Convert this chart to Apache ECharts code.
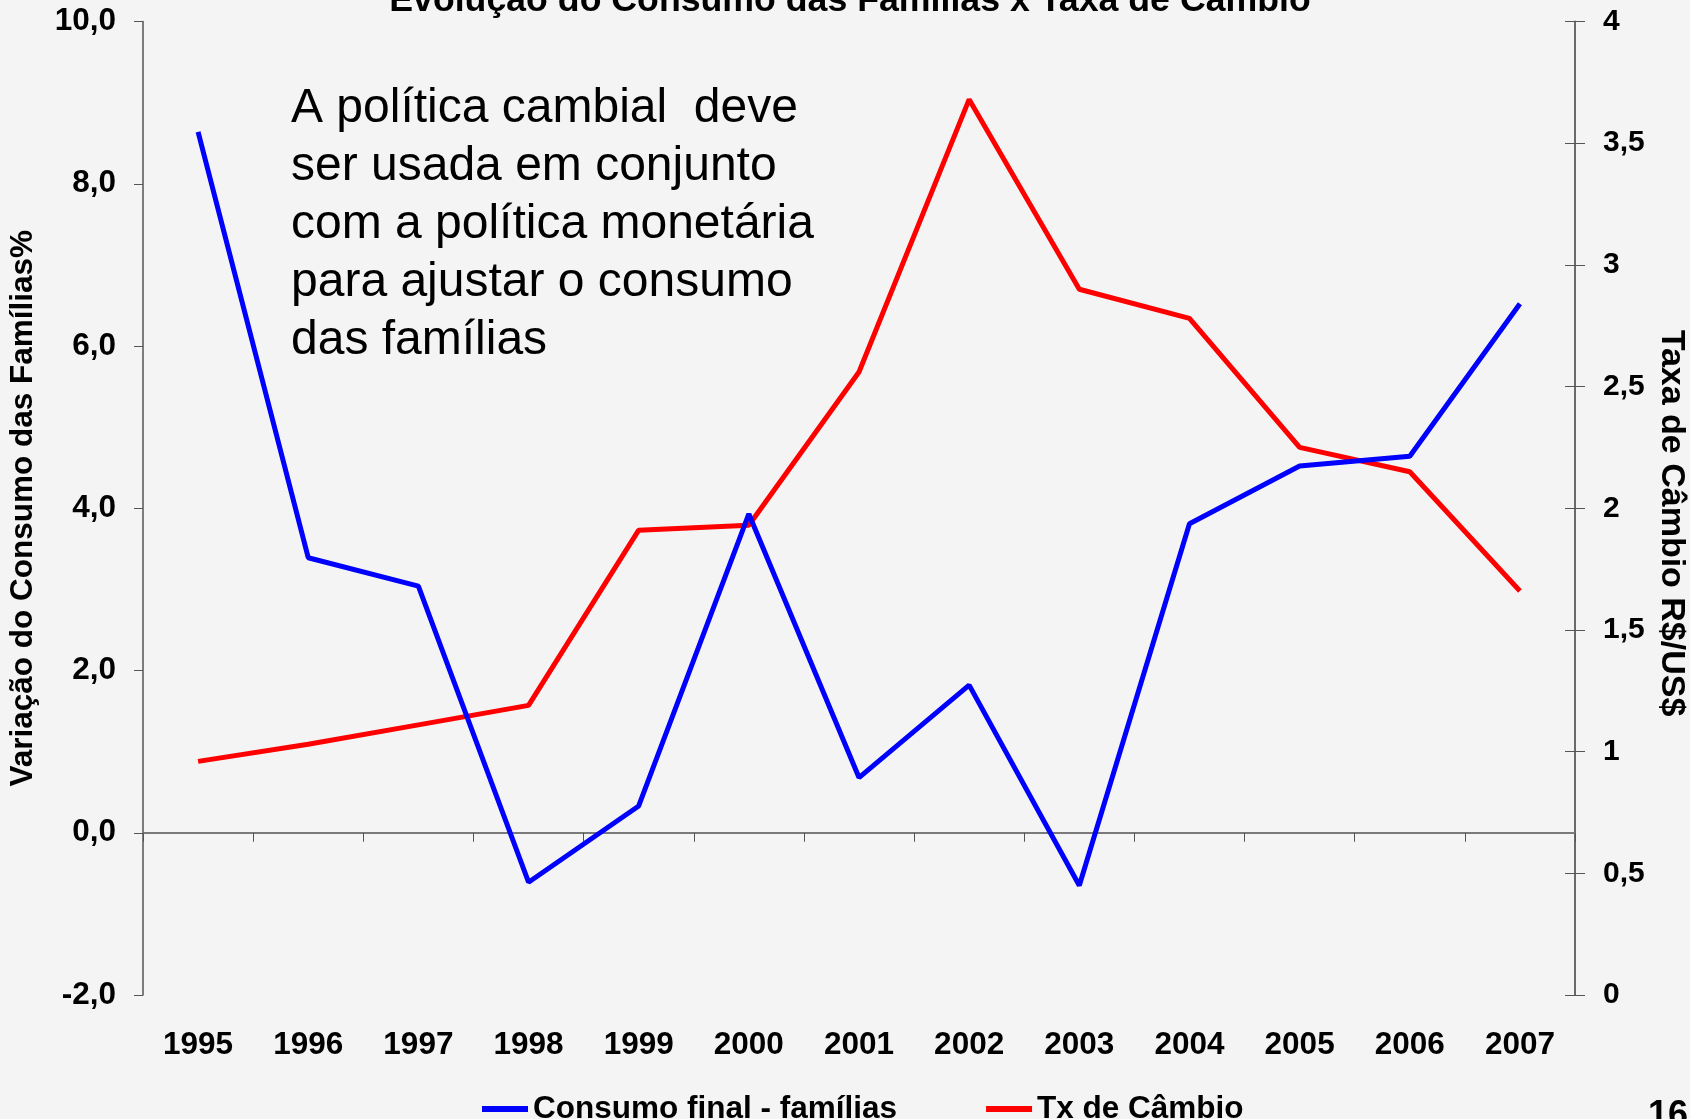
<!DOCTYPE html>
<html>
<head>
<meta charset="utf-8">
<script src="https://cdn.jsdelivr.net/npm/echarts@6/dist/echarts.min.js"></script>
<style>
html,body{margin:0;padding:0;background:#f4f4f4;}
#chart{width:1690px;height:1119px;}
</style>
</head>
<body>
<div id="chart"></div>
<script>
const years = ['1995','1996','1997','1998','1999','2000','2001','2002','2003','2004','2005','2006','2007'];
const consumo = [8.64, 3.39, 3.04, -0.61, 0.33, 3.93, 0.68, 1.82, -0.65, 3.81, 4.52, 4.64, 6.52];
const cambio = [0.96, 1.03, 1.11, 1.19, 1.91, 1.93, 2.56, 3.68, 2.90, 2.78, 2.25, 2.15, 1.66];
const seriesNames = ['Consumo final - famílias', 'Tx de Câmbio'];
const titleText = 'Evolução do Consumo das Famílias x Taxa de Câmbio';
const noteText = 'A política cambial  deve\nser usada em conjunto\ncom a política monetária\npara ajustar o consumo\ndas famílias';
const leftName = 'Variação do Consumo das Famílias%';
const rightName = 'Taxa de Câmbio R$/US$';

const FONT = '"Liberation Sans", Arial, sans-serif';
const chart = echarts.init(document.getElementById('chart'));
const comma = v => String(v).replace('.', ',');

chart.setOption({
  backgroundColor: '#f4f4f4',
  animation: false,
  grid: { left: 143, right: 115, top: 21.5, bottom: 124, containLabel: false, outerBoundsMode: 'none' },
  xAxis: [
    {
      type: 'category', data: years, boundaryGap: true, position: 'bottom',
      axisLine: { show: false, onZero: false },
      axisTick: { show: false },
      axisLabel: { margin: 34, fontFamily: FONT, fontWeight: 'bold', fontSize: 31.5, color: '#000' },
      splitLine: { show: false }
    },
    {
      type: 'category', data: years, boundaryGap: true, position: 'bottom',
      axisLine: { show: true, onZero: true, onZeroAxisIndex: 0, lineStyle: { color: '#7a7a7a', width: 2 } },
      axisTick: { show: true, inside: false, length: 9, lineStyle: { color: '#555', width: 1 } },
      axisLabel: { show: false },
      splitLine: { show: false }
    }
  ],
  yAxis: [
    {
      type: 'value', min: -2, max: 10, interval: 2, position: 'left',
      name: leftName, nameLocation: 'middle', nameRotate: 90, nameGap: 104,
      nameTextStyle: { fontFamily: FONT, fontWeight: 'bold', fontSize: 31.5, color: '#000' },
      axisLine: { show: true, lineStyle: { color: '#555', width: 1.5 } },
      axisTick: { show: true, length: 9, lineStyle: { color: '#555' } },
      axisLabel: { margin: 27, fontFamily: FONT, fontWeight: 'bold', fontSize: 31.5, color: '#000',
        formatter: v => v.toFixed(1).replace('.', ',') },
      splitLine: { show: false }
    },
    {
      type: 'value', min: 0, max: 4, interval: 0.5, position: 'right',
      axisLine: { show: true, lineStyle: { color: '#6a6a6a', width: 2 } },
      axisTick: { show: true, length: 10, lineStyle: { color: '#555' } },
      axisLabel: { margin: 28, fontFamily: FONT, fontWeight: 'bold', fontSize: 30, color: '#000',
        formatter: v => comma(v) },
      splitLine: { show: false }
    },
    {
      type: 'value', min: 0, max: 4, interval: 0.5, position: 'right',
      axisLine: { show: false },
      axisTick: { show: true, inside: true, length: 10, lineStyle: { color: '#555' } },
      axisLabel: { show: false },
      splitLine: { show: false }
    }
  ],
  legend: {
    left: 477, top: 1088, itemGap: 89, itemWidth: 46, itemHeight: 6, icon: 'rect',
    textStyle: { fontFamily: FONT, fontWeight: 'bold', fontSize: 31.5, color: '#000' },
    data: seriesNames
  },
  series: [
    {
      name: seriesNames[0], type: 'line', xAxisIndex: 0, yAxisIndex: 0, data: consumo,
      symbol: 'none', lineStyle: { color: '#0000ff', width: 5 }, itemStyle: { color: '#0000ff' }, z: 3
    },
    {
      name: seriesNames[1], type: 'line', xAxisIndex: 0, yAxisIndex: 1, data: cambio,
      symbol: 'none', lineStyle: { color: '#ff0000', width: 5 }, itemStyle: { color: '#ff0000' }, z: 2
    }
  ],
  graphic: [
    { type: 'text', position: [0, 0], style: { text: titleText, x: 850, y: 1, textAlign: 'center', textVerticalAlign: 'middle',
      font: 'bold 35.7px ' + FONT, fill: '#000' } },
    { type: 'text', x: 1671, y: 523, rotation: -Math.PI / 2,
      style: { text: rightName, x: 0, y: 0, textAlign: 'center', textVerticalAlign: 'middle', font: 'bold 34px ' + FONT, fill: '#000' } },
    { type: 'text', position: [291, 80], style: { text: noteText, font: '48px ' + FONT, lineHeight: 58, fill: '#000' } },
    { type: 'text', position: [1648, 1098], style: { text: '16', font: 'bold 36px ' + FONT, fill: '#000' } }
  ]
});
</script>
</body>
</html>
